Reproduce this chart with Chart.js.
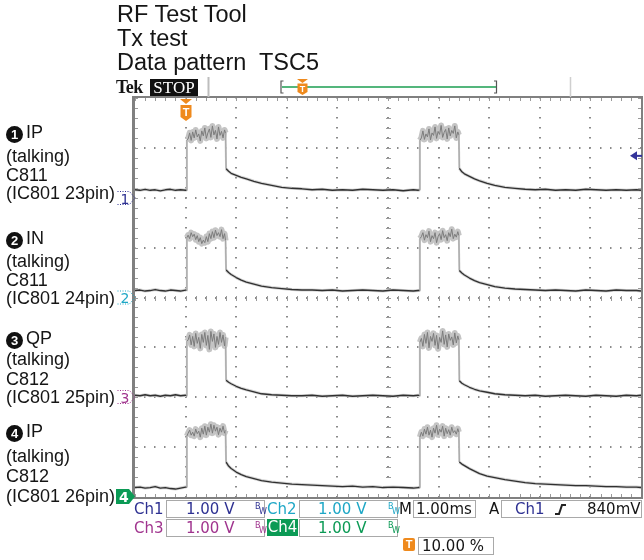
<!DOCTYPE html>
<html>
<head>
<meta charset="utf-8">
<title>RF Test Tool - Tx test</title>
<script src="https://cdn.jsdelivr.net/npm/chart.js@4.4.1/dist/chart.umd.min.js"></script>
<style>
  body { margin: 0; background: #fff; }
  #wrap { position: relative; width: 644px; height: 560px; overflow: hidden; font-family: 'Liberation Sans', Arial, sans-serif; color: #151515; }
  #scope { position: absolute; left: 0; top: 0; }
  #marks { position: absolute; left: 0; top: 0; }
  .t { position: absolute; white-space: nowrap; }
  .title { left: 117px; font-size: 23.5px; line-height: 24px; }
  .lbl { left: 6px; font-size: 18px; line-height: 20px; }
  .num { display: inline-block; width: 17px; height: 17px; border-radius: 50%; background: #111; color: #fff; font-weight: bold; font-size: 13px; line-height: 17px; text-align: center; margin-right: 3px; vertical-align: -1px; }
  .st { font-family: 'DejaVu Sans', sans-serif; font-size: 15px; line-height: 17px; }
  .box { position: absolute; border: 1px solid #a9a9a9; box-sizing: border-box; }
  .bw { position: absolute; font-family: 'DejaVu Sans', sans-serif; font-size: 8px; line-height: 8px; }
  .c1 { color: #2e3192; }
  .c2 { color: #1ea7c6; }
  .c3 { color: #a0348e; }
  .c4 { color: #0b9a55; }
</style>
</head>
<body>
<div id="wrap">
  <canvas id="scope" width="644" height="560"></canvas>

  <div class="t title" style="top:2px">RF Test Tool</div>
  <div class="t title" style="top:26px">Tx test</div>
  <div class="t title" style="top:50px">Data pattern&nbsp; TSC5</div>

  <div class="t" style="left:116px; top:78px; font-family:'Liberation Serif', serif; font-weight:bold; font-size:18px; line-height:18px; letter-spacing:-0.5px">Tek</div>
  <div class="t" style="left:150px; top:79px; width:48px; height:17px; background:#111; color:#fff; font-family:'Liberation Serif', serif; font-size:17px; line-height:18px; text-align:center">STOP</div>

  <div class="t lbl" style="top:122px"><span class="num">1</span>IP</div>
  <div class="t lbl" style="top:146px">(talking)</div>
  <div class="t lbl" style="top:165px">C811</div>
  <div class="t lbl" style="top:183px">(IC801 23pin)</div>

  <div class="t lbl" style="top:228px"><span class="num">2</span>IN</div>
  <div class="t lbl" style="top:251px">(talking)</div>
  <div class="t lbl" style="top:270px">C811</div>
  <div class="t lbl" style="top:288px">(IC801 24pin)</div>

  <div class="t lbl" style="top:328px"><span class="num">3</span>QP</div>
  <div class="t lbl" style="top:349px">(talking)</div>
  <div class="t lbl" style="top:369px">C812</div>
  <div class="t lbl" style="top:387px">(IC801 25pin)</div>

  <div class="t lbl" style="top:421px"><span class="num">4</span>IP</div>
  <div class="t lbl" style="top:446px">(talking)</div>
  <div class="t lbl" style="top:466px">C812</div>
  <div class="t lbl" style="top:486px">(IC801 26pin)</div>

  <!-- status readout -->
  <div class="t st c1" style="left:134px; top:501px">Ch1</div>
  <div class="box" style="left:166px; top:500px; width:99px; height:18px"></div>
  <div class="t st c1" style="left:186px; top:501px">1.00 V</div>
  <div class="bw c1" style="left:255px; top:503px">B</div><div class="bw c1" style="left:259px; top:508px">W</div>
  <div class="t st c2" style="left:267px; top:501px">Ch2</div>
  <div class="box" style="left:299px; top:500px; width:99px; height:18px"></div>
  <div class="t st c2" style="left:318px; top:501px">1.00 V</div>
  <div class="bw c2" style="left:388px; top:503px">B</div><div class="bw c2" style="left:392px; top:508px">W</div>
  <div class="t st" style="left:399px; top:501px">M</div>
  <div class="box" style="left:413px; top:500px; width:63px; height:18px"></div>
  <div class="t st" style="left:416px; top:501px">1.00ms</div>
  <div class="t st" style="left:489px; top:501px">A</div>
  <div class="box" style="left:501px; top:500px; width:141px; height:18px"></div>
  <div class="t st c1" style="left:515px; top:501px">Ch1</div>
  <div class="t st" style="left:587px; top:501px">840mV</div>

  <div class="t st c3" style="left:134px; top:520px">Ch3</div>
  <div class="box" style="left:166px; top:519px; width:99px; height:18px"></div>
  <div class="t st c3" style="left:186px; top:520px">1.00 V</div>
  <div class="bw c3" style="left:255px; top:522px">B</div><div class="bw c3" style="left:259px; top:527px">W</div>
  <div class="t st" style="left:267px; top:519px; width:31px; height:17px; background:#0b9a55; color:#fff; text-align:center">Ch4</div>
  <div class="box" style="left:299px; top:519px; width:99px; height:18px"></div>
  <div class="t st c4" style="left:318px; top:520px">1.00 V</div>
  <div class="bw c4" style="left:388px; top:522px">B</div><div class="bw c4" style="left:392px; top:527px">W</div>

  <div class="t" style="left:403px; top:538px; width:12px; height:13px; background:#ef8a1d; border-radius:2px; color:#fff; font-weight:bold; font-size:11px; line-height:13px; text-align:center">T</div>
  <div class="box" style="left:418px; top:537px; width:76px; height:18px"></div>
  <div class="t st" style="left:422px; top:538px">10.00 %</div>

  <svg id="marks" width="644" height="560">
    <line x1="208.5" y1="77" x2="208.5" y2="97" stroke="#bdbdbd" stroke-width="2"/>
    <line x1="570.5" y1="77" x2="570.5" y2="97" stroke="#cfcfcf" stroke-width="1.5"/>
    <path d="M283.5 81 H281 V93 H283.5" stroke="#555" stroke-width="1.2" fill="none"/>
    <path d="M494 81 H496.5 V93 H494" stroke="#555" stroke-width="1.2" fill="none"/>
    <line x1="282" y1="87" x2="496" y2="87" stroke="#1b9e50" stroke-width="1.5"/>
    <polygon points="297,79 308,79 302.5,83" fill="#ef8a1d"/>
    <path d="M297.5 83.5 H307.5 V92 L302.5 95 L297.5 92 Z" fill="#ef8a1d"/>
    <text x="302.5" y="92" font-family="Liberation Sans" font-weight="bold" font-size="9" fill="#fff" text-anchor="middle">T</text>

    <polygon points="180,99 192,99 186,104" fill="#ef8a1d"/>
    <path d="M180.5 105 H191.5 V117 L186 121 L180.5 117 Z" fill="#ef8a1d"/>
    <text x="186" y="116" font-family="Liberation Sans" font-weight="bold" font-size="11" fill="#fff" text-anchor="middle">T</text>

    <path d="M117.5 191.5 H129.5 L135 198 L129.5 204.5 H117.5" fill="none" stroke="#2e3192" stroke-width="1" stroke-dasharray="1,1.5"/>
    <text x="120.5" y="203.5" font-family="DejaVu Sans" font-size="14" fill="#2e3192">1</text>
    <path d="M117.5 291 H129.5 L135 297.5 L129.5 304 H117.5" fill="none" stroke="#1ea7c6" stroke-width="1" stroke-dasharray="1,1.5"/>
    <text x="120.5" y="303" font-family="DejaVu Sans" font-size="14" fill="#1ea7c6">2</text>
    <path d="M117.5 390.5 H129.5 L135 397 L129.5 403.5 H117.5" fill="none" stroke="#a0348e" stroke-width="1" stroke-dasharray="1,1.5"/>
    <text x="120.5" y="402.5" font-family="DejaVu Sans" font-size="14" fill="#a0348e">3</text>
    <path d="M116 489 H129 L135 496.5 L129 504 H116 Z" fill="#0b9a55"/>
    <text x="119" y="502" font-family="DejaVu Sans" font-weight="bold" font-size="14" fill="#fff">4</text>

    <path d="M555 514 H559 L562 505 H566" stroke="#222" stroke-width="2" fill="none"/>
  </svg>
</div>

<script>
// acquisition time (ms), trigger at 0, 1.00 ms/div, 10 % pre-trigger
const timeMs = [
  -1.0, -0.9, -0.8, -0.7, -0.6, -0.5, -0.4, -0.3, -0.2, -0.1, 0.0,
  0.02, 0.025,
  0.05, 0.08, 0.11, 0.14, 0.17, 0.20, 0.23, 0.26, 0.29, 0.32, 0.35, 0.38, 0.41,
  0.44, 0.47, 0.50, 0.53, 0.56, 0.59, 0.62, 0.65, 0.68, 0.71, 0.74, 0.77, 0.79,
  0.80,
  0.85, 0.9, 1.0, 1.1, 1.2, 1.35, 1.5, 1.7, 1.9, 2.1, 2.3, 2.5, 2.7, 2.9, 3.1,
  3.3, 3.5, 3.7, 3.9, 4.1, 4.3, 4.5, 4.6,
  4.625, 4.63,
  4.66, 4.69, 4.72, 4.75, 4.78, 4.81, 4.84, 4.87, 4.90, 4.93, 4.96, 4.99, 5.02,
  5.05, 5.08, 5.11, 5.14, 5.17, 5.20, 5.23, 5.26, 5.29, 5.32, 5.35, 5.38, 5.40,
  5.41,
  5.46, 5.51, 5.61, 5.71, 5.81, 5.96, 6.11, 6.31, 6.51, 6.71, 6.91, 7.11, 7.31,
  7.51, 7.71, 7.91, 8.11, 8.31, 8.51, 8.71, 8.91, 9.0
];

// volts (1.00 V/div)
const ch1Volts = [
  0.16, 0.15, 0.17, 0.15, 0.16, 0.14, 0.16, 0.17, 0.15, 0.16, 0.15,
  0.15, 1.16,
  1.18, 1.30, 1.15, 1.32, 1.20, 1.36, 1.22, 1.28, 1.14, 1.34, 1.24, 1.40, 1.19,
  1.30, 1.38, 1.21, 1.44, 1.26, 1.35, 1.18, 1.42, 1.25, 1.33, 1.20, 1.36, 1.30,
  0.58,
  0.53, 0.49, 0.45, 0.41, 0.38, 0.33, 0.29, 0.25, 0.21, 0.19, 0.18, 0.16, 0.17, 0.15, 0.16,
  0.15, 0.17, 0.16, 0.15, 0.16, 0.14, 0.16, 0.15,
  0.16, 1.15,
  1.20, 1.34, 1.17, 1.28, 1.22, 1.38, 1.16, 1.30, 1.25, 1.42, 1.19, 1.33, 1.27,
  1.45, 1.21, 1.31, 1.37, 1.18, 1.40, 1.24, 1.35, 1.29, 1.44, 1.20, 1.32, 1.26,
  0.59,
  0.52, 0.48, 0.43, 0.38, 0.34, 0.29, 0.25, 0.21, 0.19, 0.17, 0.16, 0.17, 0.15,
  0.16, 0.15, 0.17, 0.16, 0.15, 0.16, 0.15, 0.16, 0.15
];
const ch2Volts = [
  0.14, 0.15, 0.13, 0.14, 0.16, 0.14, 0.13, 0.15, 0.14, 0.13, 0.15,
  0.14, 1.20,
  1.25, 1.18, 1.30, 1.22, 1.27, 1.16, 1.24, 1.12, 1.20, 1.08, 1.15, 1.10, 1.22,
  1.12, 1.28, 1.18, 1.32, 1.20, 1.35, 1.24, 1.30, 1.22, 1.36, 1.18, 1.28, 1.14,
  0.55,
  0.50, 0.46, 0.40, 0.35, 0.31, 0.27, 0.23, 0.20, 0.18, 0.16, 0.15, 0.15, 0.14, 0.15, 0.13,
  0.14, 0.15, 0.14, 0.13, 0.15, 0.14, 0.13, 0.14,
  0.14, 1.18,
  1.22, 1.30, 1.15, 1.26, 1.20, 1.33, 1.12, 1.24, 1.18, 1.30, 1.10, 1.22, 1.28,
  1.16, 1.34, 1.20, 1.26, 1.14, 1.30, 1.22, 1.37, 1.18, 1.27, 1.21, 1.32, 1.24,
  0.54,
  0.49, 0.45, 0.39, 0.34, 0.30, 0.26, 0.22, 0.19, 0.17, 0.16, 0.15, 0.14, 0.15,
  0.14, 0.13, 0.15, 0.14, 0.13, 0.15, 0.14, 0.14, 0.13
];
const ch3Volts = [
  0.04, 0.03, 0.05, 0.03, 0.04, 0.02, 0.04, 0.03, 0.05, 0.03, 0.04,
  0.03, 1.12,
  1.15, 1.25, 1.05, 1.22, 1.02, 1.28, 1.08, 1.20, 0.98, 1.26, 1.10, 1.30, 1.04,
  1.24, 0.96, 1.32, 1.12, 1.27, 1.00, 1.22, 1.06, 1.30, 1.10, 1.25, 1.03, 1.20,
  0.34,
  0.30, 0.27, 0.22, 0.18, 0.15, 0.11, 0.07, 0.05, 0.04, 0.03, 0.03, 0.04, 0.02, 0.03, 0.04,
  0.02, 0.03, 0.04, 0.03, 0.02, 0.04, 0.03, 0.04,
  0.03, 1.10,
  1.18, 1.02, 1.26, 1.08, 1.30, 0.99, 1.22, 1.12, 1.28, 1.04, 1.24, 0.97, 1.20,
  1.10, 1.33, 1.06, 1.25, 1.01, 1.27, 1.14, 1.21, 1.05, 1.29, 1.09, 1.23, 1.15,
  0.33,
  0.28, 0.25, 0.20, 0.16, 0.13, 0.10, 0.07, 0.05, 0.04, 0.03, 0.04, 0.02, 0.03,
  0.04, 0.03, 0.02, 0.04, 0.03, 0.02, 0.04, 0.03, 0.04
];
const ch4Volts = [
  0.19, 0.20, 0.18, 0.19, 0.21, 0.18, 0.19, 0.17, 0.16, 0.18, 0.20,
  0.20, 1.22,
  1.28, 1.34, 1.24, 1.30, 1.22, 1.36, 1.27, 1.32, 1.20, 1.38, 1.26, 1.42, 1.24,
  1.40, 1.30, 1.46, 1.28, 1.44, 1.32, 1.40, 1.25, 1.38, 1.30, 1.42, 1.28, 1.34,
  0.70,
  0.62, 0.57, 0.50, 0.45, 0.41, 0.37, 0.33, 0.30, 0.28, 0.26, 0.25, 0.24, 0.23, 0.22, 0.21,
  0.22, 0.20, 0.21, 0.19, 0.20, 0.19, 0.18, 0.19,
  0.19, 1.20,
  1.30, 1.22, 1.36, 1.26, 1.40, 1.24, 1.34, 1.20, 1.38, 1.28, 1.44, 1.25, 1.36,
  1.30, 1.42, 1.22, 1.38, 1.27, 1.35, 1.24, 1.40, 1.29, 1.33, 1.26, 1.37, 1.30,
  0.70,
  0.66, 0.63, 0.57, 0.52, 0.47, 0.42, 0.39, 0.35, 0.32, 0.29, 0.27, 0.26, 0.25,
  0.24, 0.23, 0.23, 0.22, 0.21, 0.21, 0.20, 0.20, 0.19
];

const burstStartMs = [0.02, 4.625];
const burstEndMs = [0.80, 5.41];
const triggerLevelV = 0.84;

// ground position of each channel, in divisions from the bottom
const channels = [
  { volts: ch1Volts, ground: 6 },
  { volts: ch2Volts, ground: 4 },
  { volts: ch3Volts, ground: 2 },
  { volts: ch4Volts, ground: 0 }
];

function inBurst(t) {
  for (let i = 0; i < burstStartMs.length; i++) {
    if (t >= burstStartMs[i] && t <= burstEndMs[i]) return true;
  }
  return false;
}

function segKind(c) {
  const x0 = c.p0.parsed.x, x1 = c.p1.parsed.x;
  if (x1 - x0 < 0.011) return 'edge';
  if (inBurst(x0) && inBurst(x1)) return 'top';
  return 'flat';
}

const scopeGrid = {
  id: 'scopeGrid',
  beforeDatasetsDraw(chart) {
    const { ctx, chartArea: a, scales: { x, y } } = chart;
    ctx.save();
    ctx.fillStyle = '#8a8a8a';
    // dotted division lines
    for (let xv = 0; xv <= 8; xv++) {
      const px = Math.round(x.getPixelForValue(xv));
      for (let k = 0; k <= 40; k++) {
        ctx.fillRect(px - 1, Math.round(y.getPixelForValue(k / 5)) - 1, 2, 1.5);
      }
    }
    for (let yv = 1; yv <= 7; yv++) {
      const py = Math.round(y.getPixelForValue(yv));
      for (let k = 0; k <= 50; k++) {
        ctx.fillRect(Math.round(x.getPixelForValue(-1 + k / 5)) - 1, py - 1, 1.5, 2);
      }
    }
    // minor ticks on centre cross and frame
    ctx.fillStyle = '#9a9a9a';
    const cx = Math.round(x.getPixelForValue(4));
    const cy = Math.round(y.getPixelForValue(4));
    for (let k = 0; k <= 40; k++) {
      const py = Math.round(y.getPixelForValue(k / 5));
      ctx.fillRect(cx - 2, py, 5, 1);
      ctx.fillRect(a.left, py, 3, 1);
      ctx.fillRect(a.right - 3, py, 3, 1);
    }
    for (let k = 0; k <= 50; k++) {
      const px = Math.round(x.getPixelForValue(-1 + k / 5));
      ctx.fillRect(px, cy - 2, 1, 5);
      ctx.fillRect(px, a.top, 1, 3);
      ctx.fillRect(px, a.bottom - 3, 1, 3);
    }
    ctx.restore();
  },
  afterDatasetsDraw(chart) {
    const { ctx, chartArea: a, scales: { y } } = chart;
    ctx.save();
    // frame
    ctx.fillStyle = '#808080';
    ctx.fillRect(a.left - 3, a.top - 2, 3, a.bottom - a.top + 4);
    ctx.fillRect(a.right, a.top - 2, 2, a.bottom - a.top + 4);
    ctx.fillRect(a.left - 3, a.top - 2, a.right - a.left + 5, 2);
    ctx.fillRect(a.left - 3, a.bottom, a.right - a.left + 5, 2);
    // trigger level arrow (Ch1)
    const ty = y.getPixelForValue(channels[0].ground + triggerLevelV);
    ctx.fillStyle = '#33339a';
    ctx.beginPath();
    ctx.moveTo(a.right - 11, ty);
    ctx.lineTo(a.right - 4, ty - 4.5);
    ctx.lineTo(a.right - 4, ty + 4.5);
    ctx.closePath();
    ctx.fill();
    ctx.fillRect(a.right - 5, ty - 1, 6, 2);
    ctx.restore();
  }
};

// dataset 0 is painted last, so each dark trace goes before its grey halo
const datasets = [];
channels.forEach(ch => {
  const pts = timeMs.map((t, i) => ({ x: t, y: ch.ground + ch.volts[i] }));
  datasets.push({
    data: pts.map(p => ({ ...p })),
    borderColor: '#303030',
    borderWidth: 1.3,
    segment: {
      borderColor: c => segKind(c) === 'top' ? '#7c7c7c' : (segKind(c) === 'edge' ? '#a5a5a5' : '#303030'),
      borderWidth: c => segKind(c) === 'flat' ? 1.3 : 1
    }
  });
});
channels.forEach(ch => {
  const pts = timeMs.map((t, i) => ({ x: t, y: ch.ground + ch.volts[i] }));
  datasets.push({
    data: pts,
    borderColor: '#cfcfcf',
    borderWidth: 3,
    segment: {
      borderColor: c => segKind(c) === 'top' ? '#c4c4c4' : (segKind(c) === 'edge' ? '#c8c8c8' : '#d4d4d4'),
      borderWidth: c => segKind(c) === 'top' ? 6 : (segKind(c) === 'edge' ? 2 : 3)
    }
  });
});

new Chart(document.getElementById('scope'), {
  type: 'line',
  data: { datasets },
  options: {
    responsive: false,
    animation: false,
    devicePixelRatio: 1,
    layout: { padding: { left: 135, top: 98, right: 3, bottom: 63 } },
    elements: { point: { radius: 0 }, line: { tension: 0, borderJoinStyle: 'round' } },
    scales: {
      x: { type: 'linear', min: -1, max: 9, display: false },
      y: { type: 'linear', min: 0, max: 8, display: false }
    },
    plugins: { legend: { display: false }, tooltip: { enabled: false } }
  },
  plugins: [scopeGrid]
});
</script>
</body>
</html>
